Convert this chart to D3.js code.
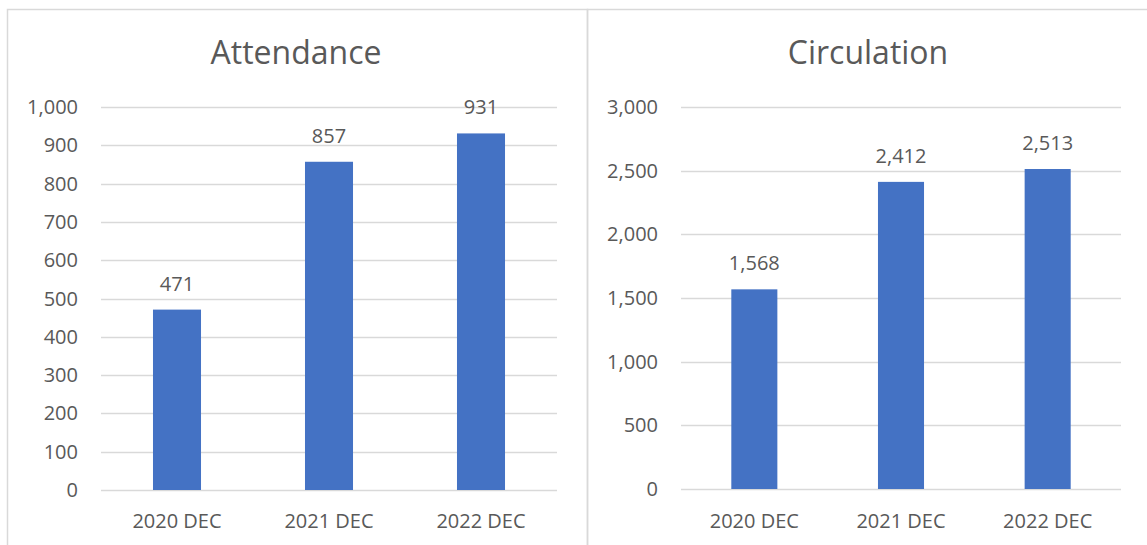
<!DOCTYPE html>
<html>
<head>
<script src="https://cdn.jsdelivr.net/npm/d3@7"></script>
<style>
body { margin: 0; background: #fff; }
text { font-family: "Open Sans", sans-serif; fill: #595959; }
</style>
</head>
<body>
<script>
var w = 1147;
var h = 545;

var categories = ["2020 DEC", "2021 DEC", "2022 DEC"];
var attendance = [471, 857, 931];
var circulation = [1568, 2412, 2513];
var attendanceTicks = [0, 100, 200, 300, 400, 500, 600, 700, 800, 900, 1000];
var circulationTicks = [0, 500, 1000, 1500, 2000, 2500, 3000];

var svg = d3.select("body")
    .append("svg")
    .attr("width", w)
    .attr("height", h);

var fmt = d3.format(",");

// chart frames
svg.append("rect")
    .attr("x", 7.5).attr("y", 9.5)
    .attr("width", 580).attr("height", 560)
    .style("fill", "none").style("stroke", "#d9d9d9").style("stroke-width", 1.5);
svg.append("rect")
    .attr("x", 587.5).attr("y", 9.5)
    .attr("width", 580).attr("height", 560)
    .style("fill", "none").style("stroke", "#d9d9d9").style("stroke-width", 1.5);

function drawChart(opt) {
    var g = svg.append("g");

    var x = d3.scaleBand()
        .domain(categories)
        .range([opt.x0, opt.x1])
        .paddingInner(opt.pad)
        .paddingOuter(opt.pad / 2);

    var y = d3.scaleLinear()
        .domain([0, opt.max])
        .range([opt.y0, 107]);

    g.selectAll(".grid")
        .data(opt.ticks)
        .enter().append("line")
        .attr("x1", opt.x0).attr("x2", opt.x1)
        .attr("y1", function(d) { return Math.round(y(d)) + 0.5; })
        .attr("y2", function(d) { return Math.round(y(d)) + 0.5; })
        .style("stroke", "#d9d9d9").style("stroke-width", 1.5);

    g.selectAll(".ytick")
        .data(opt.ticks)
        .enter().append("text")
        .attr("x", opt.x0 - 23)
        .attr("y", function(d) { return y(d); })
        .attr("dy", "0.35em")
        .attr("text-anchor", "end")
        .style("font-size", "20px")
        .text(function(d) { return fmt(d); });

    g.selectAll("rect")
        .data(opt.values)
        .enter().append("rect")
        .attr("x", function(d, i) { return x(categories[i]); })
        .attr("width", x.bandwidth())
        .attr("y", function(d) { return y(d); })
        .attr("height", function(d) { return y(0) - y(d); })
        .style("fill", "#4472c4");

    g.selectAll(".lbl")
        .data(opt.values)
        .enter().append("text")
        .attr("x", function(d, i) { return x(categories[i]) + x.bandwidth() / 2; })
        .attr("y", function(d) { return y(d) - 19; })
        .attr("text-anchor", "middle")
        .style("font-size", "20px")
        .text(function(d) { return fmt(d); });

    g.selectAll(".xtick")
        .data(categories)
        .enter().append("text")
        .attr("x", function(d) { return x(d) + x.bandwidth() / 2; })
        .attr("y", 528)
        .attr("text-anchor", "middle")
        .style("font-size", "20px")
        .text(function(d) { return d; });

    g.append("text")
        .attr("x", opt.tx)
        .attr("y", 64)
        .attr("text-anchor", "middle")
        .style("font-size", "32px")
        .text(opt.title);
}

drawChart({ title: "Attendance", values: attendance, ticks: attendanceTicks, max: 1000,
    x0: 101, x1: 557, y0: 490, pad: 0.684, tx: 296 });
drawChart({ title: "Circulation", values: circulation, ticks: circulationTicks, max: 3000,
    x0: 681, x1: 1121, y0: 489, pad: 0.686, tx: 868 });
</script>
</body>
</html>
